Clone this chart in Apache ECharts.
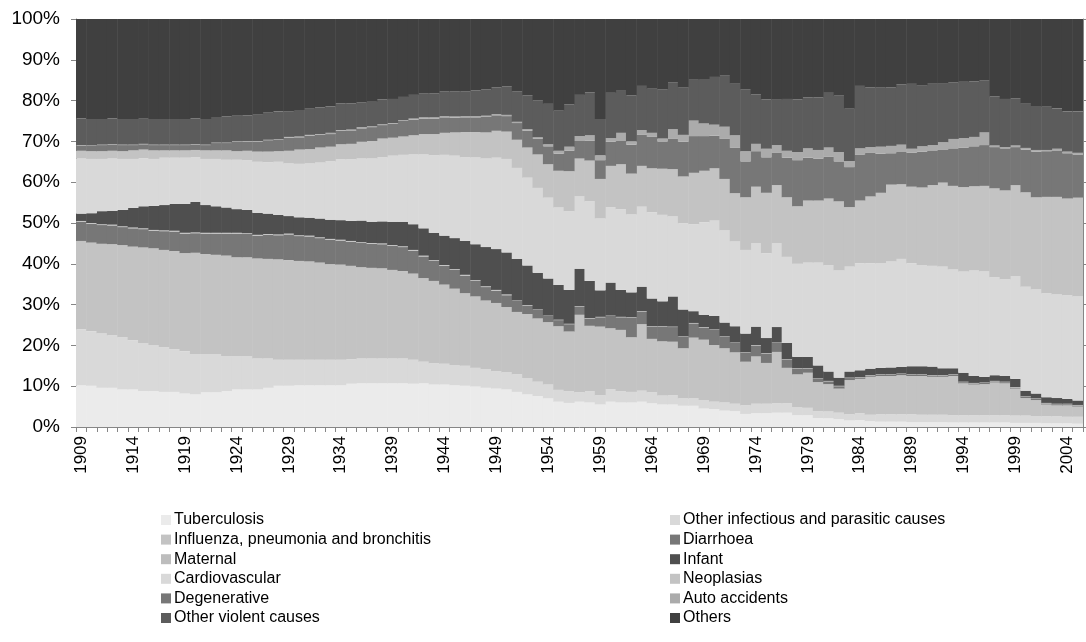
<!DOCTYPE html>
<html>
<head>
<meta charset="utf-8">
<script src="https://cdn.jsdelivr.net/npm/echarts@6/dist/echarts.min.js"></script>
<style>
html,body{margin:0;padding:0;background:#fff;}
#chart{width:1086px;height:642px;}
</style>
</head>
<body>
<div id="chart"></div>
<script>
const years = [];
for (let y = 1909; y <= 2005; y++) years.push(String(y));

const tuberculosis = [10.2,10.1,9.6,9.6,9.2,9.2,8.8,8.8,8.6,8.6,
8.2,8.0,8.5,8.5,8.8,9.2,9.2,9.2,9.6,10.1,
10.1,10.2,10.2,10.2,10.2,10.2,10.6,10.7,10.7,10.7,
10.7,10.7,10.6,10.7,10.4,10.4,10.2,10.1,9.9,9.6,
9.4,9.2,8.6,8.0,7.6,7.0,6.2,5.9,6.2,6.0,
5.5,6.2,6.0,6.0,6.2,5.8,5.5,5.5,5.2,5.2,
4.5,4.4,4.0,3.9,3.2,3.4,3.4,3.5,3.5,2.9,
2.9,2.2,2.1,1.9,1.6,1.7,1.4,1.3,1.3,1.3,
1.2,1.2,1.2,1.2,1.1,1.1,1.1,1.1,1.1,1.1,
1.0,1.0,1.0,0.9,0.9,0.9,0.8];

const otherInfectious = [13.8,13.4,13.4,12.8,12.8,12.1,11.8,11.3,11.0,10.5,
10.4,9.9,9.4,9.4,8.6,8.2,8.2,7.6,7.2,6.4,
6.4,6.3,6.3,6.3,6.3,6.3,6.0,6.1,6.1,6.1,
6.1,6.1,5.9,5.3,5.2,5.1,5.0,4.9,4.6,4.6,
4.3,4.2,4.3,4.0,3.5,3.4,2.9,2.9,2.3,2.8,
2.3,3.1,2.8,2.6,2.7,2.7,2.2,2.3,1.8,1.8,
2.1,1.8,2.0,1.8,2.1,2.3,2.3,2.3,2.3,2.0,
1.8,1.7,1.7,1.6,1.5,1.7,1.6,1.8,1.8,1.8,
1.9,1.8,1.8,1.8,1.8,1.8,1.8,1.8,1.8,1.8,
1.8,1.8,1.7,1.7,1.7,1.6,1.7];

const influenza = [21.6,21.7,21.9,22.4,22.6,22.9,23.4,23.7,23.8,24.0,
24.0,24.8,24.5,24.3,24.6,24.2,24.2,24.5,24.4,24.6,
24.4,24.2,24.1,23.8,23.4,23.3,22.9,22.4,22.2,22.1,
21.7,21.4,21.1,20.5,20.2,19.4,18.7,17.8,17.5,16.8,
16.7,16.0,15.3,15.7,15.5,15.3,15.6,14.6,19.0,16.0,
16.8,14.9,15.0,13.4,16.3,13.1,13.3,13.1,12.3,14.9,
14.8,13.9,13.3,12.6,10.7,11.6,10.0,12.6,8.7,8.0,
8.6,7.1,6.7,5.9,8.4,8.4,9.3,9.4,9.4,9.6,
9.4,9.5,9.3,9.3,9.6,7.8,7.5,7.6,8.0,7.8,
6.6,4.3,3.9,2.9,2.7,2.8,2.5];

const diarrhoea = [4.7,4.6,4.6,4.6,4.4,4.5,4.5,4.3,4.6,4.8,
4.8,4.8,5.0,5.2,5.4,5.8,5.7,5.6,5.9,5.9,
6.3,6.1,6.1,6.0,6.0,5.9,5.9,5.9,5.9,5.9,
5.9,5.9,5.6,5.3,4.9,4.6,4.6,4.3,3.8,3.3,
3.0,2.9,2.7,2.1,2.1,1.5,1.5,1.8,2.0,1.8,
2.3,3.0,3.1,4.8,3.1,3.0,3.6,3.6,2.8,3.5,
3.0,3.7,2.8,2.3,2.2,2.7,2.3,2.2,2.0,1.4,
1.0,0.8,0.7,0.6,0.5,0.3,0.3,0.3,0.3,0.3,
0.3,0.3,0.3,0.3,0.3,0.3,0.3,0.3,0.3,0.3,
0.3,0.3,0.3,0.3,0.3,0.3,0.3];

const maternal = [0.2,0.2,0.2,0.2,0.2,0.2,0.2,0.2,0.2,0.2,
0.2,0.2,0.2,0.2,0.2,0.2,0.2,0.2,0.2,0.2,
0.2,0.2,0.2,0.2,0.2,0.2,0.2,0.2,0.2,0.2,
0.2,0.2,0.2,0.2,0.2,0.2,0.2,0.2,0.2,0.2,
0.2,0.2,0.1,0.1,0.1,0.1,0.1,0.1,0.1,0.1,
0.1,0.1,0.1,0.1,0.1,0.1,0.1,0.1,0.1,0.1,
0.1,0.1,0.1,0.1,0.1,0.1,0.1,0.1,0.1,0.1,
0.1,0.1,0.1,0.1,0.1,0.1,0.1,0.1,0.1,0.1,
0.1,0.1,0.1,0.1,0.1,0.1,0.1,0.1,0.1,0.1,
0.1,0.1,0.1,0.1,0.1,0.1,0.1];

const infant = [1.8,2.4,3.2,3.4,4.0,4.8,5.4,5.9,6.2,6.6,
7.1,7.5,6.8,6.5,6.2,5.8,5.7,5.4,5.0,4.8,
4.3,4.4,4.4,4.6,4.7,4.8,4.9,5.3,5.2,5.4,
5.7,6.0,6.3,6.7,6.7,7.2,7.6,8.3,8.8,9.6,
10.0,10.3,10.2,9.7,9.0,9.1,8.5,8.3,9.2,9.1,
6.5,8.1,6.6,6.1,6.0,6.8,6.1,7.4,6.6,2.9,
3.0,3.3,3.4,4.0,4.6,4.5,3.7,3.8,4.0,2.8,
2.8,3.2,2.3,2.0,1.5,1.7,1.6,1.6,1.7,1.6,
2.0,2.0,2.1,1.7,1.5,2.2,1.7,1.4,1.4,1.4,
2.0,1.4,1.2,1.4,1.4,1.2,1.1];

const cardiovascular = [13.5,13.3,12.8,12.8,12.5,12.0,11.8,11.5,11.6,11.3,
11.3,10.9,11.3,11.6,11.7,12.1,12.2,12.5,12.6,13.0,
12.9,13.1,13.3,13.7,14.3,14.9,15.1,15.2,15.5,15.7,
16.2,16.4,17.1,18.2,19.0,19.8,20.2,20.5,21.3,21.7,
22.4,22.9,22.3,21.5,20.8,19.8,19.0,19.3,17.7,19.5,
17.6,18.5,19.8,19.1,19.6,21.1,21.2,19.6,21.1,21.3,
22.7,23.4,22.6,20.8,20.5,20.5,20.8,20.5,21.1,22.8,
23.1,25.2,26.0,26.3,25.7,26.2,25.8,25.7,26.0,26.5,
25.2,24.8,24.7,24.9,24.2,24.8,25.9,25.8,24.0,23.7,
25.2,25.5,25.5,25.5,25.4,25.4,25.5];

const neoplasias = [1.9,1.9,1.9,1.9,1.9,2.1,2.1,2.1,1.8,1.8,
1.8,1.8,2.1,2.1,2.3,2.1,2.3,2.5,2.6,2.6,
3.1,3.5,3.5,3.7,3.6,3.7,3.8,4.1,4.3,4.6,
4.4,4.5,4.7,4.9,5.2,5.4,5.7,6.2,6.2,6.4,
6.6,6.7,6.9,7.4,8.2,8.2,9.0,9.8,9.3,10.0,
9.7,10.1,11.0,10.0,10.0,10.8,11.3,11.6,11.5,12.6,
12.6,12.8,12.6,11.8,12.9,13.8,14.8,14.3,14.6,14.1,
15.2,15.2,16.4,16.9,14.6,15.4,16.4,17.2,18.8,18.3,
18.8,19.0,19.8,20.6,20.5,20.7,20.6,21.0,21.8,21.8,
22.3,23.1,22.6,23.6,23.9,23.7,24.2];

const degenerative = [1.3,1.3,1.5,1.5,1.5,1.3,1.3,1.3,1.3,1.3,
1.3,1.3,1.3,1.8,1.8,2.3,2.3,2.5,2.8,2.8,
3.2,3.0,3.3,3.1,3.1,3.3,3.3,3.3,3.4,3.3,
3.4,3.8,3.8,3.8,3.8,3.8,3.6,3.6,3.6,3.8,
3.8,3.8,4.1,4.1,3.9,4.4,4.2,5.0,4.3,4.9,
4.6,5.9,5.7,7.1,7.7,7.7,6.7,7.4,8.5,9.0,
8.5,8.0,9.8,11.1,8.8,8.7,8.7,8.0,9.7,11.3,
10.5,10.3,10.2,9.8,9.8,11.3,10.8,9.6,7.7,7.9,
8.3,8.8,8.5,8.0,9.2,9.7,9.8,10.0,10.1,10.3,
9.3,10.5,11.2,11.2,11.4,11.1,10.6];

const autoAccidents = [0.1,0.1,0.1,0.1,0.1,0.1,0.1,0.1,0.1,0.1,
0.1,0.1,0.1,0.1,0.1,0.1,0.1,0.1,0.1,0.1,
0.2,0.2,0.2,0.2,0.3,0.2,0.2,0.3,0.2,0.2,
0.2,0.2,0.3,0.3,0.3,0.3,0.3,0.3,0.3,0.3,
0.3,0.3,0.3,0.4,0.3,0.5,0.7,1.0,1.2,1.3,
1.2,0.9,2.0,0.8,1.1,1.0,0.7,2.4,1.7,3.8,
3.1,2.7,3.0,3.1,2.5,1.8,2.1,1.8,1.7,2.0,
2.3,2.1,2.3,2.3,1.5,1.5,1.3,1.7,1.8,1.8,
1.0,1.3,1.3,1.9,2.3,2.3,2.3,3.1,0.4,0.3,
0.4,0.4,0.4,0.3,0.4,0.4,0.4];

const otherViolent = [6.5,6.5,6.3,6.3,6.3,6.3,6.3,6.3,6.3,6.3,
6.3,6.3,6.3,6.3,6.4,6.3,6.3,6.6,6.6,6.8,
6.3,6.5,6.4,6.5,6.5,6.5,6.4,6.0,6.0,6.1,
5.9,5.7,5.8,5.8,5.9,6.0,6.1,6.1,6.3,6.4,
6.5,7.0,7.5,8.3,9.1,9.9,9.8,10.4,10.1,10.5,
8.9,11.1,10.3,11.3,10.8,10.8,12.1,11.4,11.7,10.0,
10.9,11.7,12.5,12.8,15.2,12.1,12.1,11.1,12.7,12.9,
12.5,12.9,13.4,13.8,12.8,15.3,14.6,14.6,14.3,14.8,
15.9,15.0,15.2,14.5,13.9,13.8,13.6,12.8,12.0,11.8,
11.5,11.0,10.8,10.6,9.9,9.8,10.1];

const others = [24.5,24.5,24.5,24.5,24.5,24.5,24.5,24.5,24.5,24.5,
24.5,24.5,24.5,24.0,23.9,23.7,23.7,23.4,23.1,22.9,
22.9,22.6,22.3,21.9,21.5,21.0,20.7,20.7,20.3,19.9,
19.6,19.1,18.8,18.6,18.3,18.1,18.0,17.8,17.6,17.3,
17.1,16.6,18.0,18.9,20.1,21.1,22.7,21.2,18.9,18.1,
24.7,18.3,17.8,18.8,16.7,17.3,17.3,15.7,17.0,15.2,
14.8,14.5,14.2,15.8,17.3,18.8,20.0,20.0,19.8,20.0,
19.5,19.3,18.3,19.0,22.2,16.7,17.0,17.0,17.0,16.3,
16.0,16.3,15.8,15.8,15.6,15.6,15.5,15.1,19.2,19.7,
19.7,20.9,21.4,21.7,22.1,22.9,22.9];

const seriesNames = ['Tuberculosis','Other infectious and parasitic causes','Influenza, pneumonia and bronchitis','Diarrhoea','Maternal','Infant','Cardiovascular','Neoplasias','Degenerative','Auto accidents','Other violent causes','Others'];
const seriesData = [tuberculosis, otherInfectious, influenza, diarrhoea, maternal, infant, cardiovascular, neoplasias, degenerative, autoAccidents, otherViolent, others];
const seriesColors = ['#ebebeb','#d9d9d9','#c3c3c3','#777777','#bdbdbd','#4f4f4f','#d9d9d9','#c3c3c3','#777777','#ababab','#5c5c5c','#404040'];
const yTicks = [0,10,20,30,40,50,60,70,80,90,100];

const FONT = '"Liberation Sans", Arial, sans-serif';
const chart = echarts.init(document.getElementById('chart'), null, {renderer: 'canvas'});

const series = seriesNames.map((n, i) => ({
  name: n,
  type: 'bar',
  stack: 'total',
  data: seriesData[i],
  barWidth: 10.9,
  itemStyle: {color: seriesColors[i]},
  emphasis: {disabled: true},
  animation: false
}));

const leftNames = seriesNames.filter((_, i) => i % 2 === 0);
const rightNames = seriesNames.filter((_, i) => i % 2 === 1);
const legendCommon = {
  orient: 'vertical',
  top: 512,
  itemWidth: 10,
  itemHeight: 10,
  itemGap: 3.6,
  icon: 'rect',
  padding: 0,
  selectedMode: false,
  textStyle: {fontFamily: FONT, fontSize: 16, color: '#000', padding: [0,0,0,-2]}
};

chart.setOption({
  animation: false,
  backgroundColor: '#fff',
  grid: {left: 76, right: 3, top: 19, bottom: 215, containLabel: false},
  legend: [
    Object.assign({}, legendCommon, {left: 161, data: leftNames}),
    Object.assign({}, legendCommon, {left: 670, data: rightNames})
  ],
  xAxis: {
    type: 'category',
    data: years,
    boundaryGap: true,
    axisLine: {lineStyle: {color: '#868686', width: 1}},
    axisTick: {show: true, interval: 0, length: 5, lineStyle: {color: '#868686'}},
    axisLabel: {interval: 4, rotate: 90, margin: 9, fontFamily: FONT, fontSize: 17, color: '#000'},
    splitLine: {show: false}
  },
  yAxis: [{
    type: 'value',
    min: yTicks[0],
    max: yTicks[yTicks.length - 1],
    interval: 10,
    axisLine: {show: true, lineStyle: {color: '#868686', width: 1}},
    axisTick: {show: true, length: 5, lineStyle: {color: '#868686'}},
    axisLabel: {formatter: '{value}%', margin: 16, fontFamily: FONT, fontSize: 19, color: '#000'},
    splitLine: {show: false}
  }, {
    type: 'value',
    position: 'right',
    min: yTicks[0],
    max: yTicks[yTicks.length - 1],
    interval: 10,
    axisLine: {show: true, lineStyle: {color: '#868686', width: 1}},
    axisTick: {show: true, length: 4, lineStyle: {color: '#868686'}},
    axisLabel: {show: false},
    splitLine: {show: false}
  }],
  series: series
});
</script>
</body>
</html>
